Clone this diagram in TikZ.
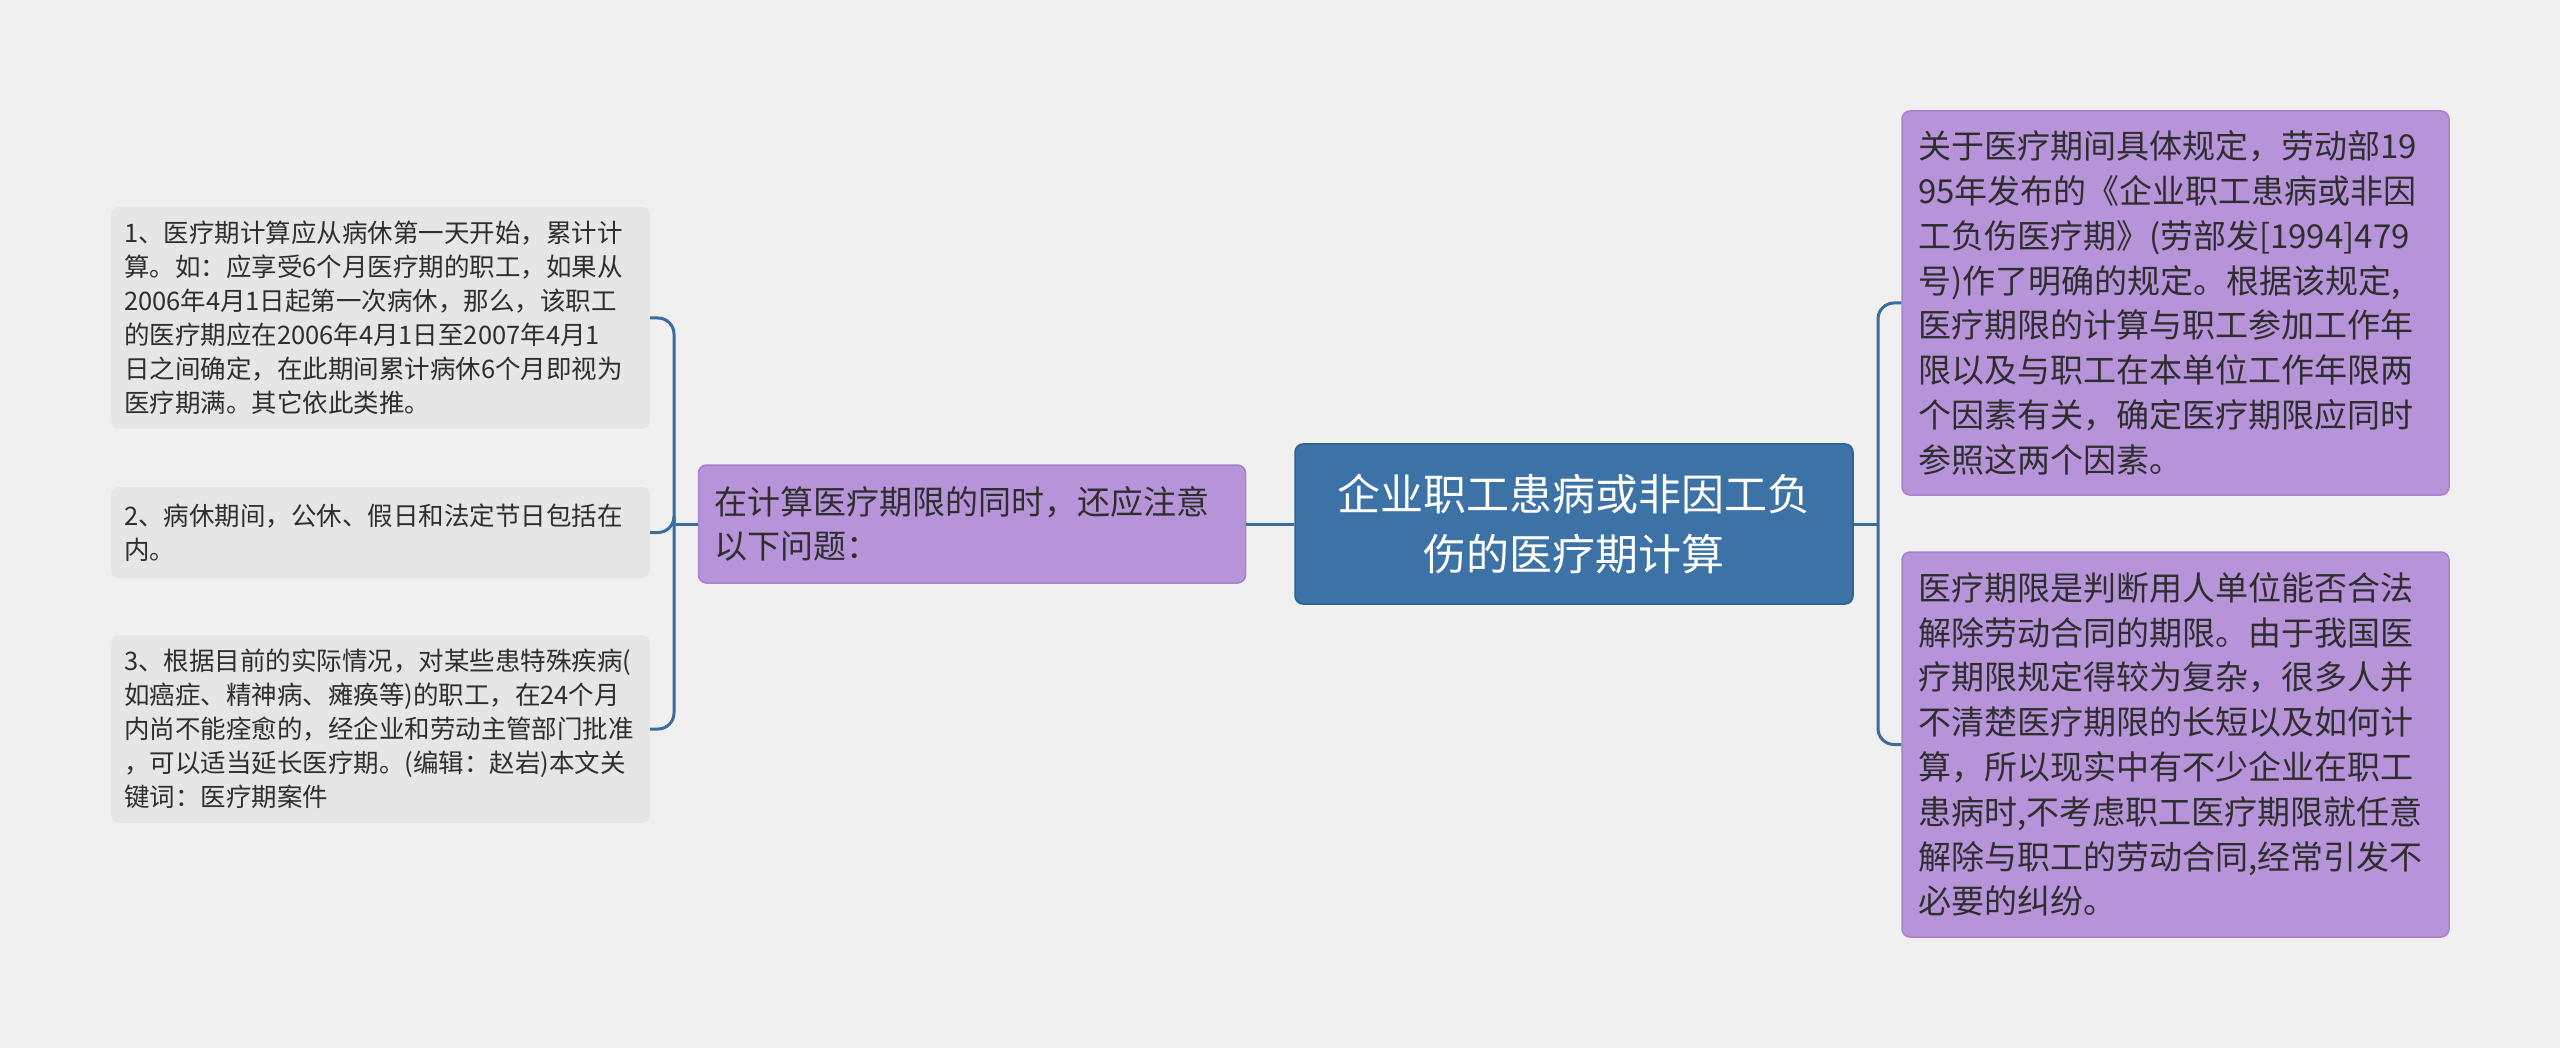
\documentclass[tikz,border=0pt]{standalone}
\usepackage{fontspec}
\setmainfont{Noto Sans CJK SC}
\definecolor{bg}{HTML}{F0F0F0}
\definecolor{leafgray}{HTML}{E6E6E6}
\definecolor{purplefill}{HTML}{B794D9}
\definecolor{purpleline}{HTML}{A682CF}
\definecolor{rootfill}{HTML}{3C72A5}
\definecolor{rootline}{HTML}{2F6192}
\definecolor{conncol}{HTML}{3A6D9C}
\definecolor{txt}{HTML}{2E2E2E}
\begin{document}
\begin{tikzpicture}[x=1pt,y=-1pt,
  leafbox/.style={rounded corners=8, fill=leafgray, draw=none, text width=513pt, inner xsep=13pt, inner ysep=0pt, minimum width=539pt, align=left, text=txt, font=\fontsize{25.5}{34}\selectfont},
  purplebox/.style={rounded corners=8, fill=purplefill, draw=purpleline, line width=1.5pt, text width=515pt, inner xsep=16pt, inner ysep=0pt, minimum width=547pt, align=left, text=txt, font=\fontsize{33}{44.8}\selectfont},
  rootbox/.style={rounded corners=8, fill=rootfill, draw=rootline, line width=1.5pt, text width=518pt, inner xsep=20pt, inner ysep=0pt, minimum width=558pt, align=center, text=white, font=\fontsize{43}{60}\selectfont},
  conn/.style={draw=conncol, line width=3pt, rounded corners=16}]
\useasboundingbox[fill=bg] (0,0) rectangle (2560,1048);

\node[rootbox, minimum height=160pt] (root) at (1574,524) {企业职工患病或非因工负\\伤的医疗期计算};

\node[purplebox, minimum height=118pt] (mid) at (972,524) {在计算医疗期限的同时，还应注意\\以下问题：};

\node[leafbox, minimum height=222pt] (l1) at (380.5,318) {1、医疗期计算应从病休第一天开始，累计计\\算。如：应享受6个月医疗期的职工，如果从\\2006年4月1日起第一次病休，那么，该职工\\的医疗期应在2006年4月1日至2007年4月1\\日之间确定，在此期间累计病休6个月即视为\\医疗期满。其它依此类推。};

\node[leafbox, minimum height=91pt] (l2) at (380.5,532.5) {2、病休期间，公休、假日和法定节日包括在\\内。};

\node[leafbox, minimum height=188pt] (l3) at (380.5,729) {3、根据目前的实际情况，对某些患特殊疾病(\\如癌症、精神病、瘫痪等)的职工，在24个月\\内尚不能痊愈的，经企业和劳动主管部门批准\\，可以适当延长医疗期。(编辑：赵岩)本文关\\键词：医疗期案件};

\node[purplebox, minimum height=384pt] (r1) at (2175.5,303) {关于医疗期间具体规定，劳动部19\\95年发布的《企业职工患病或非因\\工负伤医疗期》(劳部发[1994]479\\号)作了明确的规定。根据该规定,\\医疗期限的计算与职工参加工作年\\限以及与职工在本单位工作年限两\\个因素有关，确定医疗期限应同时\\参照这两个因素。};

\node[purplebox, minimum height=385pt] (r2) at (2175.5,744.5) {医疗期限是判断用人单位能否合法\\解除劳动合同的期限。由于我国医\\疗期限规定得较为复杂，很多人并\\不清楚医疗期限的长短以及如何计\\算，所以现实中有不少企业在职工\\患病时,不考虑职工医疗期限就任意\\解除与职工的劳动合同,经常引发不\\必要的纠纷。};

\coordinate (lj) at (674,524);
\coordinate (rj) at (1878,524);

\draw[conn] (root.west) -- (mid.east);
\draw[conn] (mid.west) -- (lj);
\draw[conn] (lj) |- (l1.east);
\draw[conn] (lj) |- (l2.east);
\draw[conn] (lj) |- (l3.east);
\draw[conn] (root.east) -- (rj);
\draw[conn] (rj) |- (r1.west);
\draw[conn] (rj) |- (r2.west);
\end{tikzpicture}
\end{document}
